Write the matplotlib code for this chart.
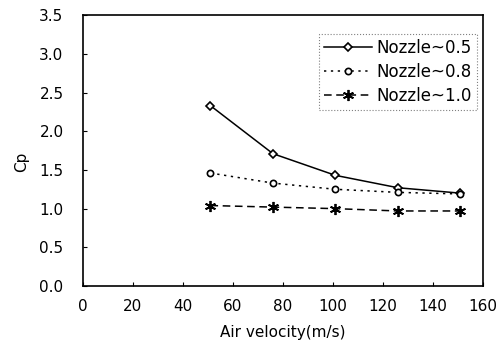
import numpy as np
import matplotlib
matplotlib.use('Agg')
from matplotlib import pyplot as plt

plt.rcParams['font.family'] = ['DejaVu Sans']

velocity = [51, 76, 101, 126, 151]
cp_05 = [2.33, 1.71, 1.43, 1.27, 1.20]
cp_08 = [1.46, 1.33, 1.25, 1.21, 1.19]
cp_10 = [1.04, 1.02, 1.00, 0.97, 0.97]
labels = ['Nozzle~0.5', 'Nozzle~0.8', 'Nozzle~1.0']

fig = plt.figure(figsize=(5.03, 3.51), dpi=100)
ax = fig.add_axes([0.165, 0.185, 0.795, 0.772])

ax.plot(velocity, cp_05, color='black', lw=1.1, ls='-', marker='D', ms=4,
        mfc='white', mec='black', mew=1.2, label=labels[0])
ax.plot(velocity, cp_08, color='black', lw=1.1, ls=(0, (1.5, 3)), marker='o', ms=4.5,
        mfc='white', mec='black', mew=1.2, label=labels[1])
ax.plot(velocity, cp_10, color='black', lw=1.1, ls=(0, (5, 3)), marker=(6, 2, 0), ms=8,
        mec='black', mew=1.3, label=labels[2])

ax.set_xlim(0, 160)
ax.set_ylim(0, 3.5)
ax.set_xticks(np.arange(0, 161, 20))
ax.set_yticks(np.arange(0, 3.51, 0.5))
ax.set_yticklabels(['%.1f' % v for v in np.arange(0, 3.51, 0.5)])
ax.tick_params(direction='in', length=3, labelsize=11)
ax.tick_params(axis='x', pad=9)
ax.tick_params(axis='y', pad=14)
for s in ax.spines.values():
    s.set_linewidth(1.2)

ax.set_xlabel('Air velocity(m/s)', fontsize=11, labelpad=8)
ax.set_ylabel('Cp', fontsize=11, labelpad=10)
ax.yaxis.set_label_coords(-0.135, 0.46)

leg = ax.legend(loc='upper right', bbox_to_anchor=(0.985, 0.93), fontsize=12,
                fancybox=False, framealpha=1, edgecolor='gray',
                handlelength=2.9, handletextpad=0.25, borderpad=0.3, labelspacing=0.35,
                borderaxespad=0)
leg.get_frame().set_linewidth(0.8)
leg.get_frame().set_linestyle(':')

fig.savefig('out.png', dpi=100)
